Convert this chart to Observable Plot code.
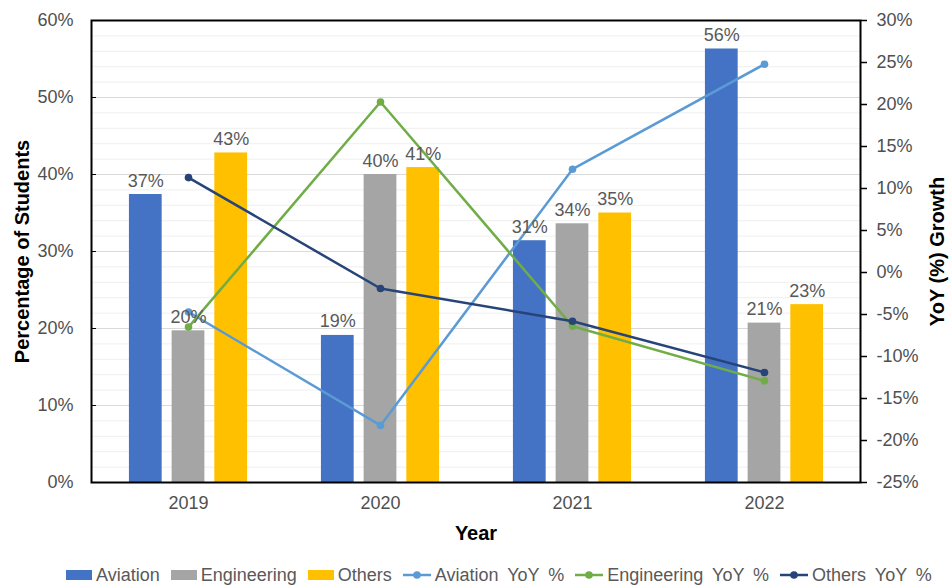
<!DOCTYPE html>
<html>
<head>
<meta charset="utf-8">
<script src="https://cdn.jsdelivr.net/npm/d3@7"></script>
<script src="https://cdn.jsdelivr.net/npm/@observablehq/plot@0.6"></script>
<style>
  body { margin: 0; background: white; font-family: "Liberation Sans", Arial, sans-serif; }
  #wrap { width: 949px; }
  #legend { position: relative; height: 30px; display: flex; align-items: center; padding-left: 66px; gap: 11px; font-size: 18px; color: #595959; word-spacing: 4px; margin-top: 2px; }
  .item { display: flex; align-items: center; gap: 4px; white-space: nowrap; }
  .sw { width: 26px; height: 10px; display: inline-block; }
</style>
</head>
<body>
<div id="wrap">
  <div id="chart"></div>
  <div id="legend"></div>
</div>
<script>
const years = ["2019", "2020", "2021", "2022"];
const aviation = [37.4, 19.1, 31.4, 56.3];
const engineering = [19.7, 40.0, 33.6, 20.7];
const others = [42.8, 40.9, 35.0, 23.1];
const aviationYoY = [-4.7, -18.2, 12.3, 24.8];
const engineeringYoY = [-6.5, 20.3, -6.4, -12.9];
const othersYoY = [11.3, -1.9, -5.8, -11.9];
const leftTicks = [0, 10, 20, 30, 40, 50, 60];
const minorTicks = [2, 4, 6, 8, 12, 14, 16, 18, 22, 24, 26, 28, 32, 34, 36, 38, 42, 44, 46, 48, 52, 54, 56, 58];
const rightTicks = [-25, -20, -15, -10, -5, 0, 5, 10, 15, 20, 25, 30];

const barSeries = [
  {name: "Aviation", values: aviation, color: "#4472C4"},
  {name: "Engineering", values: engineering, color: "#A5A5A5"},
  {name: "Others", values: others, color: "#FFC000"}
];
const lineSeries = [
  {name: "Aviation YoY %", values: aviationYoY, color: "#5B9BD5"},
  {name: "Engineering YoY %", values: engineeringYoY, color: "#70AD47"},
  {name: "Others YoY %", values: othersYoY, color: "#264478"}
];

// right axis (-25%..30%) mapped onto the left scale (0..60%)
const toLeft = v => (v + 25) * 60 / 55;
const fromLeft = d => Math.round(d * 55 / 60 - 25);

const W = 949, H = 558;
const mL = 91, mR = 89, mT = 20, mB = 76;
const band = (W - mL - mR) / years.length;
const barW = 33, step = 42.7;
const inset = (band - barW) / 2;

const marks = [
  Plot.gridY(minorTicks, {stroke: "#efefef", strokeOpacity: 1, strokeWidth: 1}),
  Plot.gridY(leftTicks, {stroke: "#d9d9d9", strokeOpacity: 1, strokeWidth: 1})
];
barSeries.forEach((s, k) => {
  const dx = (k - 1) * step;
  marks.push(Plot.barY(years, {x: d => d, y1: 0, y2: (d, i) => s.values[i], fill: s.color, dx, insetLeft: inset, insetRight: inset}));
});
lineSeries.forEach(s => {
  marks.push(Plot.line(years, {x: d => d, y: (d, i) => toLeft(s.values[i]), stroke: s.color, strokeWidth: 2.5}));
  marks.push(Plot.dot(years, {x: d => d, y: (d, i) => toLeft(s.values[i]), fill: s.color, r: 3.8}));
});
barSeries.forEach((s, k) => {
  const dx = (k - 1) * step;
  marks.push(Plot.text(years, {x: d => d, y: (d, i) => s.values[i], text: (d, i) => Math.round(s.values[i]) + "%", dx, dy: -8, lineAnchor: "bottom", fill: "#595959", fontSize: 18}));
});
marks.push(
  Plot.frame({stroke: "black", strokeWidth: 2}),
  Plot.axisY(leftTicks, {anchor: "left", tickSize: 0, tickPadding: 18, tickFormat: d => d + "%", fill: "#505050", fontSize: 18}),
  Plot.axisY(leftTicks, {anchor: "left", tickSize: -5, tickFormat: () => "", stroke: "black"}),
  Plot.axisY(rightTicks.map(toLeft), {anchor: "right", tickSize: 6, tickPadding: 10, tickFormat: d => fromLeft(d) + "%", fill: "#505050", fontSize: 18, stroke: "black", strokeWidth: 1.5}),
  Plot.axisX(years, {anchor: "bottom", tickSize: 0, tickPadding: 14, fill: "#505050", fontSize: 18}),
  Plot.text(["Year"], {frameAnchor: "bottom", dy: 57, fontWeight: "bold", fontSize: 20, fill: "black"}),
  Plot.text(["Percentage of Students"], {frameAnchor: "left", textAnchor: "middle", dx: -69, rotate: -90, fontWeight: "bold", fontSize: 20, fill: "black"}),
  Plot.text(["YoY (%) Growth"], {frameAnchor: "right", textAnchor: "middle", dx: 77, rotate: -90, fontWeight: "bold", fontSize: 20, fill: "black"})
);

const chart = Plot.plot({
  width: W, height: H,
  marginLeft: mL, marginRight: mR, marginTop: mT, marginBottom: mB,
  x: {type: "band", domain: years, padding: 0, axis: null},
  y: {domain: [0, 60], axis: null},
  style: {fontFamily: "'Liberation Sans', Arial, sans-serif", fontSize: "18px", background: "white", overflow: "visible"},
  marks
});
document.getElementById("chart").appendChild(chart);

// legend
const legend = document.getElementById("legend");
barSeries.forEach(s => {
  const it = document.createElement("div");
  it.className = "item";
  it.innerHTML = `<span class="sw" style="background:${s.color}"></span><span>${s.name}</span>`;
  legend.appendChild(it);
});
lineSeries.forEach(s => {
  const it = document.createElement("div");
  it.className = "item";
  it.innerHTML = `<svg width="28" height="10"><line x1="0" y1="5" x2="28" y2="5" stroke="${s.color}" stroke-width="2.5"/><circle cx="14" cy="5" r="3.8" fill="${s.color}"/></svg><span>${s.name}</span>`;
  legend.appendChild(it);
});
</script>
</body>
</html>
